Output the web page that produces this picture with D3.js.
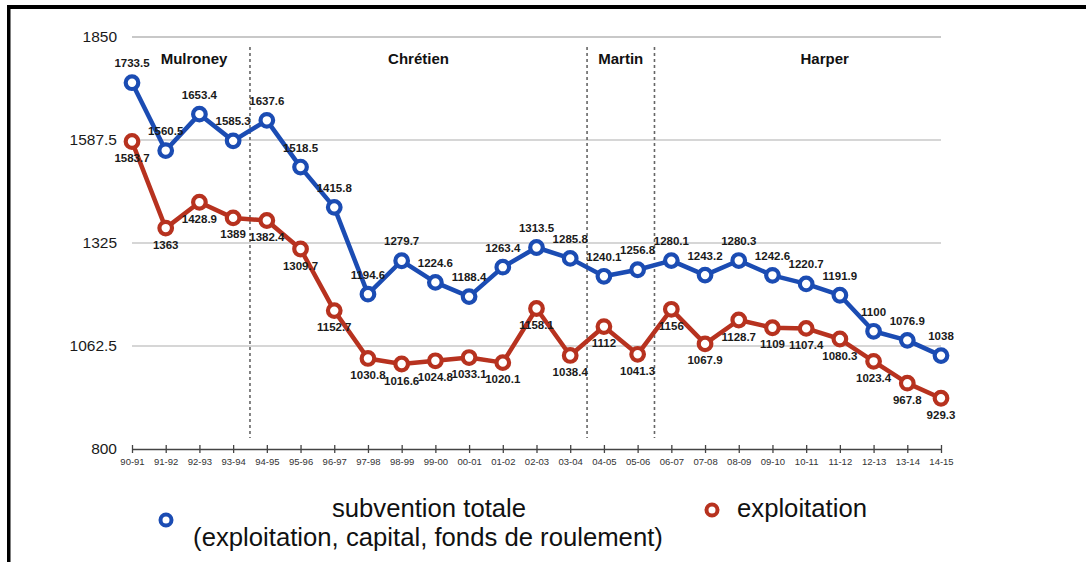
<!DOCTYPE html>
<html>
<head>
<meta charset="utf-8">
<script src="https://cdn.jsdelivr.net/npm/d3@7"></script>
<style>
  body { margin: 0; background: #fff; }
  svg { display: block; font-family: "Liberation Sans", Arial, sans-serif; }
</style>
</head>
<body>
<div id="container"></div>
<script>
// data

const years = ["90-91","91-92","92-93","93-94","94-95","95-96","96-97","97-98","98-99","99-00",
  "00-01","01-02","02-03","03-04","04-05","05-06","06-07","07-08","08-09","09-10",
  "10-11","11-12","12-13","13-14","14-15"];

const totale = [1733.5, 1560.5, 1653.4, 1585.3, 1637.6, 1518.5, 1415.8, 1194.6, 1279.7, 1224.6,
  1188.4, 1263.4, 1313.5, 1285.8, 1240.1, 1256.8, 1280.1, 1243.2, 1280.3, 1242.6,
  1220.7, 1191.9, 1100, 1076.9, 1038];

const exploitation = [1583.7, 1363, 1428.9, 1389, 1382.4, 1309.7, 1152.7, 1030.8, 1016.6, 1024.8,
  1033.1, 1020.1, 1158.1, 1038.4, 1112, 1041.3, 1156, 1067.9, 1128.7, 1109,
  1107.4, 1080.3, 1023.4, 967.8, 929.3];

const yTicks = [800, 1062.5, 1325, 1587.5, 1850];

// premiers ministres: nom, premiere et derniere annee
const pmNames = ["Mulroney", "Chrétien", "Martin", "Harper"];
const pmStart = ["90-91", "94-95", "04-05", "06-07"];
const pmEnd = ["93-94", "03-04", "05-06", "14-15"];

const blue = "#1b4cb3";
const red = "#b7321f";

// variables

const width = 1086;
const height = 562;
const x0 = 132, x1 = 941;
const yTop = 37, yBot = 449;

const svg = d3.select("#container").append("svg")
  .attr("width", width)
  .attr("height", height);

// cadre noir (haut + gauche)
svg.append("rect").attr("x", 7).attr("y", 5).attr("width", width - 7).attr("height", 4).attr("fill", "#000");
svg.append("rect").attr("x", 7).attr("y", 5).attr("width", 3.5).attr("height", height - 5).attr("fill", "#000");

// scales

const xScale = d3.scalePoint()
  .domain(years)
  .range([x0, x1]);

const yScale = d3.scaleLinear()
  .domain([800, 1850])
  .range([yBot, yTop]);

const step = xScale.step();

// gridlines
svg.append("g")
  .selectAll("line")
  .data(yTicks.filter(d => d > 800))
  .join("line")
  .attr("x1", x0).attr("x2", x1)
  .attr("y1", d => yScale(d)).attr("y2", d => yScale(d))
  .attr("stroke", "#c8c8c8")
  .attr("stroke-width", (d, i, n) => i === n.length - 1 ? 2 : 1.3);

// y labels
svg.append("g")
  .selectAll("text")
  .data(yTicks)
  .join("text")
  .attr("x", 117)
  .attr("y", d => yScale(d))
  .attr("dy", "0.35em")
  .attr("text-anchor", "end")
  .attr("font-size", 15.5)
  .attr("fill", "#1a1a1a")
  .text(d => d);

// x axis
const xAxis = d3.axisBottom(xScale)
  .tickSizeInner(4)
  .tickSizeOuter(0)
  .tickPadding(5);

const gx = svg.append("g")
  .attr("transform", `translate(0,${yBot})`)
  .call(xAxis);
gx.select(".domain").attr("stroke", "#444").attr("stroke-width", 1.3);
gx.selectAll(".tick line").attr("stroke", "#444").attr("stroke-width", 1.3).attr("y1", -4);
gx.selectAll(".tick text")
  .attr("font-size", 9.5)
  .attr("font-family", "'Liberation Sans', Arial, sans-serif")
  .attr("fill", "#333");

// separateurs des mandats
const seps = pmStart.slice(1).map(d => xScale(d) - step / 2);
svg.append("g")
  .selectAll("line")
  .data(seps)
  .join("line")
  .attr("x1", d => d).attr("x2", d => d)
  .attr("y1", 47).attr("y2", 438)
  .attr("stroke", "#666")
  .attr("stroke-width", 1.6)
  .attr("stroke-dasharray", "3,3");

// noms
svg.append("g")
  .selectAll("text")
  .data(pmNames)
  .join("text")
  .attr("x", (d, i) => {
    const a = i === 0 ? xScale(pmStart[i]) + 6 : xScale(pmStart[i]) - step / 2;
    const b = i === pmNames.length - 1 ? xScale(pmEnd[i]) + step * 1.6 : xScale(pmEnd[i]) + step / 2;
    return (a + b) / 2;
  })
  .attr("y", 64)
  .attr("text-anchor", "middle")
  .attr("font-size", 15)
  .attr("font-weight", "bold")
  .attr("fill", "#111")
  .text(d => d);

// lines + points

const series = [
  { values: totale, color: blue, dy: -15.5 },
  { values: exploitation, color: red, dy: 20.5 }
];

const line = d3.line()
  .x((d, i) => xScale(years[i]))
  .y(d => yScale(d));

series.forEach(s => {
  svg.append("path")
    .datum(s.values)
    .attr("d", line)
    .attr("fill", "none")
    .attr("stroke", s.color)
    .attr("stroke-width", 4.5)
    .attr("stroke-linejoin", "round");
});

series.forEach(s => {
  svg.append("g")
    .selectAll("circle")
    .data(s.values)
    .join("circle")
    .attr("cx", (d, i) => xScale(years[i]))
    .attr("cy", d => yScale(d))
    .attr("r", 6.3)
    .attr("fill", "#fff")
    .attr("stroke", s.color)
    .attr("stroke-width", 4.2);
});

series.forEach(s => {
  svg.append("g")
    .selectAll("text")
    .data(s.values)
    .join("text")
    .attr("x", (d, i) => xScale(years[i]))
    .attr("y", d => yScale(d) + s.dy)
    .attr("text-anchor", "middle")
    .attr("font-size", 11.5)
    .attr("font-weight", "bold")
    .attr("fill", "#1a1a1a")
    .text(d => d);
});

// legend

const legend = svg.append("g");
legend.append("circle")
  .attr("cx", 166).attr("cy", 520).attr("r", 5.5)
  .attr("fill", "#fff").attr("stroke", blue).attr("stroke-width", 4);
legend.append("text")
  .attr("x", 429).attr("y", 517)
  .attr("text-anchor", "middle")
  .attr("font-size", 25.7)
  .attr("fill", "#111")
  .text("subvention totale");
legend.append("text")
  .attr("x", 428).attr("y", 546)
  .attr("text-anchor", "middle")
  .attr("font-size", 25.7)
  .attr("fill", "#111")
  .text("(exploitation, capital, fonds de roulement)");

legend.append("circle")
  .attr("cx", 712).attr("cy", 510).attr("r", 5.5)
  .attr("fill", "#fff").attr("stroke", red).attr("stroke-width", 4);
legend.append("text")
  .attr("x", 737).attr("y", 517)
  .attr("font-size", 25.7)
  .attr("fill", "#111")
  .text("exploitation");
</script>
</body>
</html>
